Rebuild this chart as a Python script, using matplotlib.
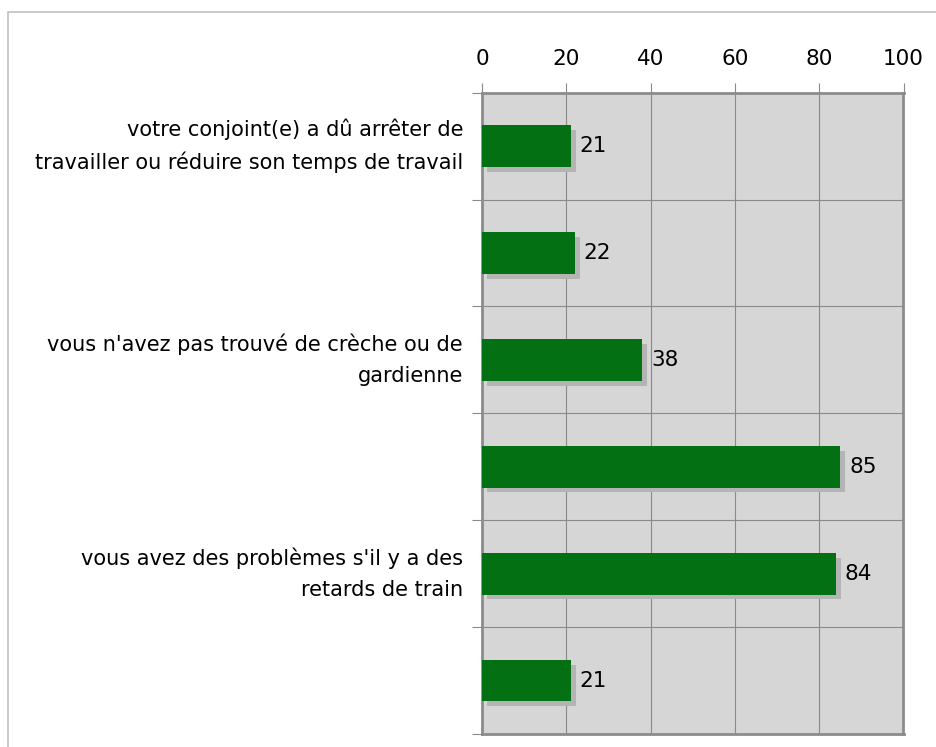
import matplotlib.pyplot as plt
from matplotlib.patches import Rectangle

# données (de haut en bas)
labels = ["votre conjoint(e) a dû arrêter de\ntravailler ou réduire son temps de travail",
          "",
          "vous n'avez pas trouvé de crèche ou de\ngardienne",
          "",
          "vous avez des problèmes s'il y a des\nretards de train",
          ""]
values = [21, 22, 38, 85, 84, 21]
xticks = [0, 20, 40, 60, 80, 100]

bar_color = "#037013"
shadow_color = "#b4b4b4"
bg_color = "#d6d6d6"
grid_color = "#8a8a8a"

fig = plt.figure(figsize=(9.36, 7.47), dpi=100)
fig.patches.append(Rectangle((8/936, -0.1), 1.2, 1 - 12/747 + 0.1, transform=fig.transFigure,
                             fill=False, edgecolor="#c0c0c0", linewidth=1.2))
ax = fig.add_axes([482/936, 1 - 734/747, 421.5/936, (734 - 92.7)/747])
ax.set_facecolor(bg_color)

n = len(values)
ypos = list(range(n))
h = 0.39
# ombre
for y, v in zip(ypos, values):
    ax.add_patch(Rectangle((1.2, y - h/2 + 0.045), v, h, facecolor=shadow_color,
                           edgecolor="none", zorder=2))
ax.barh(ypos, values, height=h, color=bar_color, zorder=3)
for y, v in zip(ypos, values):
    ax.text(v + 2.1, y, str(v), va="center", ha="left", fontsize=15.5, zorder=4)

ax.set_xlim(0, 100)
ax.set_ylim(n - 0.5, -0.5)
ax.xaxis.tick_top()
ax.set_xticks(xticks)
ax.tick_params(axis="x", length=7, width=0.8, color=grid_color, labelsize=15.5, pad=10)
ax.set_yticks([y - 0.5 for y in ypos] + [n - 0.5])
ax.set_yticklabels([])
ax.tick_params(axis="y", length=7, width=0.8, color=grid_color)
for y, lab in zip(ypos, labels):
    ax.text(-4.5, y, lab, ha="right", va="center", fontsize=15, linespacing=1.65)

ax.grid(True, color=grid_color, linewidth=0.8, zorder=1)
ax.set_axisbelow(True)
for s in ax.spines.values():
    s.set_color("#8c8c8c")
    s.set_linewidth(2)

fig.savefig("out.png", dpi=100)
